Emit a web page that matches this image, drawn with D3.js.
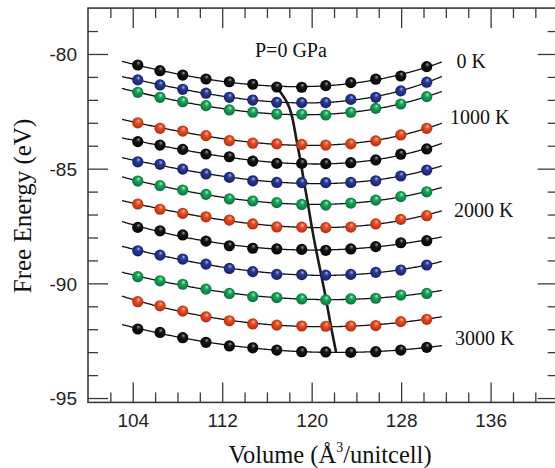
<!DOCTYPE html>
<html>
<head>
<meta charset="utf-8">
<script src="https://cdn.jsdelivr.net/npm/d3@7"></script>
<style>
  html, body { margin: 0; padding: 0; background: #fff; }
  svg { display: block; }
</style>
</head>
<body>
<svg id="chart" width="555" height="468"></svg>
<script>
// ---------------- data ----------------
const volumes = [104.45, 106.44, 108.47, 110.55, 112.64, 114.73, 116.88, 119.11, 121.26, 123.50, 125.73, 127.97, 130.29];
const temperatures = [0, 250, 500, 750, 1000, 1250, 1500, 1750, 2000, 2250, 2500, 2750, 3000];

const F_0K    = [-80.48, -80.73, -80.92, -81.09, -81.21, -81.32, -81.44, -81.45, -81.38, -81.25, -81.10, -80.96, -80.55];
const F_250K  = [-81.13, -81.35, -81.54, -81.71, -81.89, -82.01, -82.11, -82.12, -82.12, -81.98, -81.89, -81.61, -81.23];
const F_500K  = [-81.67, -81.89, -82.08, -82.25, -82.44, -82.54, -82.62, -82.63, -82.66, -82.54, -82.37, -82.18, -81.86];
const F_750K  = [-83.00, -83.24, -83.36, -83.56, -83.78, -83.89, -83.92, -83.94, -83.97, -83.92, -83.79, -83.53, -83.24];
const F_1000K = [-83.82, -83.97, -84.16, -84.36, -84.48, -84.67, -84.77, -84.77, -84.78, -84.74, -84.62, -84.37, -84.14];
const F_1250K = [-84.70, -84.81, -85.02, -85.23, -85.38, -85.53, -85.60, -85.61, -85.61, -85.60, -85.53, -85.32, -85.06];
const F_1500K = [-85.54, -85.74, -85.93, -86.12, -86.32, -86.41, -86.48, -86.56, -86.59, -86.50, -86.37, -86.22, -86.01];
const F_1750K = [-86.54, -86.77, -86.95, -87.10, -87.24, -87.41, -87.54, -87.55, -87.57, -87.55, -87.41, -87.21, -87.05];
const F_2000K = [-87.56, -87.71, -87.89, -88.16, -88.36, -88.47, -88.50, -88.52, -88.56, -88.50, -88.40, -88.23, -88.14];
const F_2250K = [-88.58, -88.77, -88.94, -89.16, -89.35, -89.49, -89.61, -89.62, -89.64, -89.61, -89.52, -89.42, -89.20];
const F_2500K = [-89.71, -89.89, -90.04, -90.25, -90.44, -90.58, -90.62, -90.68, -90.72, -90.68, -90.65, -90.51, -90.44];
const F_2750K = [-90.80, -90.98, -91.21, -91.46, -91.63, -91.77, -91.82, -91.86, -91.87, -91.86, -91.84, -91.67, -91.57];
const F_3000K = [-91.99, -92.14, -92.37, -92.57, -92.73, -92.81, -92.91, -92.98, -92.99, -93.01, -92.98, -92.91, -92.79];

// equilibrium volume locus (line through the minima)
const eqVolume = [116.88, 117.85, 118.25, 118.70, 119.05, 119.30, 119.65, 120.00, 120.39, 120.84, 121.29, 121.71, 122.18];
const eqEnergy = [-81.44, -82.10, -82.62, -83.93, -84.75, -85.58, -86.45, -87.54, -88.55, -89.59, -90.68, -91.86, -92.99];

const fitRange = [103.04, 131.69];

const xTicksMajor = [104, 112, 120, 128, 136];
const yTicksMajor = [-80, -85, -90, -95];

const tempLabels = ["0 K", "1000 K", "2000 K", "3000 K"];
const pressureLabel = "P=0 GPa";

const seriesValues = [F_0K, F_250K, F_500K, F_750K, F_1000K, F_1250K, F_1500K, F_1750K, F_2000K, F_2250K, F_2500K, F_2750K, F_3000K];

// ---------------- styles ----------------
const palette = [
  {base: "#161616", light: "#9a9a9a", dark: "#000000"},
  {base: "#2a3a98", light: "#a9b2f0", dark: "#14205e"},
  {base: "#17a95a", light: "#a8f0c4", dark: "#0b6a36"},
  {base: "#f04d24", light: "#ffc0a8", dark: "#a82a0c"}
];

// ---------------- layout ----------------
const svg = d3.select("#chart");
const X0 = 88, X1 = 557.7, Y0 = 8.1, Y1 = 402.4;
const x = d3.scaleLinear().domain([100, 142]).range([X0, X1]);
const y = d3.scaleLinear().domain([-78, -95.19]).range([Y0, Y1]);

const axisColor = "#3a3a3a";

// gradients
const defs = svg.append("defs");
palette.forEach((p, i) => {
  const g = defs.append("radialGradient")
    .attr("id", "ball" + i)
    .attr("cx", "50%").attr("cy", "50%").attr("r", "55%")
    .attr("fx", "58%").attr("fy", "28%");
  g.append("stop").attr("offset", "0%").attr("stop-color", p.light);
  g.append("stop").attr("offset", "35%").attr("stop-color", p.base);
  g.append("stop").attr("offset", "100%").attr("stop-color", p.dark);
});

// ---------------- axes ----------------
const fmt = d => d3.format("d")(d).replace("−", "-");
const tickFont = "'Liberation Sans', Arial, sans-serif";
const serif = "'Liberation Serif', 'Times New Roman', serif";

// bottom
const xMinor = d3.range(102, 142, 2).filter(v => !xTicksMajor.includes(v));
const gxB = svg.append("g").attr("transform", `translate(0,${Y1})`)
  .call(d3.axisBottom(x).tickValues(xTicksMajor).tickSize(-20).tickSizeOuter(0).tickPadding(24.5).tickFormat(fmt));
const gxBm = svg.append("g").attr("transform", `translate(0,${Y1})`)
  .call(d3.axisBottom(x).tickValues(xMinor).tickSize(-10).tickSizeOuter(0).tickFormat(""));
// top
const gxT = svg.append("g").attr("transform", `translate(0,${Y0})`)
  .call(d3.axisTop(x).tickValues(xTicksMajor).tickSize(-20).tickSizeOuter(0).tickFormat(""));
const gxTm = svg.append("g").attr("transform", `translate(0,${Y0})`)
  .call(d3.axisTop(x).tickValues(xMinor).tickSize(-10).tickSizeOuter(0).tickFormat(""));
// left
const yMinor = d3.range(-79, -96, -1).filter(v => !yTicksMajor.includes(v));
const gyL = svg.append("g").attr("transform", `translate(${X0},0)`)
  .call(d3.axisLeft(y).tickValues(yTicksMajor).tickSize(-20).tickSizeOuter(0).tickPadding(11).tickFormat(fmt));
const gyLm = svg.append("g").attr("transform", `translate(${X0},0)`)
  .call(d3.axisLeft(y).tickValues(yMinor).tickSize(-10).tickSizeOuter(0).tickFormat(""));
// right
const gyR = svg.append("g").attr("transform", `translate(${X1},0)`)
  .call(d3.axisRight(y).tickValues(yTicksMajor).tickSize(-20).tickSizeOuter(0).tickFormat(""));
const gyRm = svg.append("g").attr("transform", `translate(${X1},0)`)
  .call(d3.axisRight(y).tickValues(yMinor).tickSize(-10).tickSizeOuter(0).tickFormat(""));

[gxB, gxBm, gxT, gxTm, gyL, gyLm, gyR, gyRm].forEach(g => {
  g.select(".domain").remove();
  g.selectAll(".tick line").attr("stroke", axisColor).attr("stroke-width", 1.3);
  g.selectAll(".tick text").attr("fill", "#222").style("font-family", tickFont).style("font-size", "19px");
});
gxB.selectAll(".tick text").attr("dy", "0");
gyL.selectAll(".tick text").attr("dy", "0.36em");

// frame
svg.append("rect")
  .attr("x", X0).attr("y", Y0).attr("width", X1 - X0).attr("height", Y1 - Y0)
  .attr("fill", "none").attr("stroke", axisColor).attr("stroke-width", 1.6);

// ---------------- fitted curves ----------------
function polyFit(xs, ys, deg) {
  const n = deg + 1;
  const xm = d3.mean(xs);
  const A = Array.from({length: n}, () => new Array(n + 1).fill(0));
  xs.forEach((xv, k) => {
    const t = xv - xm;
    for (let i = 0; i < n; i++) {
      for (let j = 0; j < n; j++) A[i][j] += Math.pow(t, i + j);
      A[i][n] += ys[k] * Math.pow(t, i);
    }
  });
  for (let i = 0; i < n; i++) {
    let p = i;
    for (let r = i + 1; r < n; r++) if (Math.abs(A[r][i]) > Math.abs(A[p][i])) p = r;
    [A[i], A[p]] = [A[p], A[i]];
    for (let r = 0; r < n; r++) {
      if (r === i) continue;
      const f = A[r][i] / A[i][i];
      for (let c = i; c <= n; c++) A[r][c] -= f * A[i][c];
    }
  }
  const coef = A.map((row, i) => row[n] / row[i]);
  return v => coef.reduce((s, c, i) => s + c * Math.pow(v - xm, i), 0);
}

const plot = svg.append("g");
const line = d3.line().x(d => x(d[0])).y(d => y(d[1])).curve(d3.curveLinear);
const grid = d3.range(fitRange[0], fitRange[1] + 0.001, 0.1);

seriesValues.forEach((vals) => {
  const f = polyFit(volumes, vals, 3);
  plot.append("path")
    .attr("d", line(grid.map(v => [v, f(v)])))
    .attr("fill", "none").attr("stroke", "#111").attr("stroke-width", 1.3);
});

// equilibrium locus
plot.append("path")
  .attr("d", d3.line().x(d => x(d[0])).y(d => y(d[1])).curve(d3.curveBasis)(
    [[eqVolume[0], eqEnergy[0]]].concat(eqVolume.map((v, i) => [v, eqEnergy[i]])).concat([[eqVolume[12], eqEnergy[12]]])))
  .attr("fill", "none").attr("stroke", "#1a1a1a").attr("stroke-width", 2.6);

// points
seriesValues.forEach((vals, si) => {
  plot.append("g").selectAll("circle")
    .data(volumes.map((v, i) => [v, vals[i]]))
    .join("circle")
    .attr("cx", d => x(d[0])).attr("cy", d => y(d[1]))
    .attr("r", 5.6)
    .attr("fill", `url(#ball${si % 4})`);
});

// ---------------- labels ----------------
const lab = svg.append("g").style("font-family", serif).attr("fill", "#111");
lab.append("text").attr("x", 255).attr("y", 57).style("font-size", "20px").text(pressureLabel);
const tl = [[456.5, 68], [450, 124], [454, 217], [455, 345]];
tempLabels.forEach((t, i) => {
  lab.append("text").attr("x", tl[i][0]).attr("y", tl[i][1]).style("font-size", "20px").text(t);
});

// axis titles
const xt = lab.append("text").attr("x", 330).attr("y", 463).attr("text-anchor", "middle").style("font-size", "24.5px");
xt.append("tspan").text("Volume (Å");
xt.append("tspan").attr("dy", -11).style("font-size", "14px").text("3");
xt.append("tspan").attr("dy", 11).text("/unitcell)");

lab.append("text")
  .attr("transform", "translate(31,206) rotate(-90)")
  .attr("text-anchor", "middle").style("font-size", "25px")
  .text("Free Energy (eV)");
</script>
</body>
</html>
